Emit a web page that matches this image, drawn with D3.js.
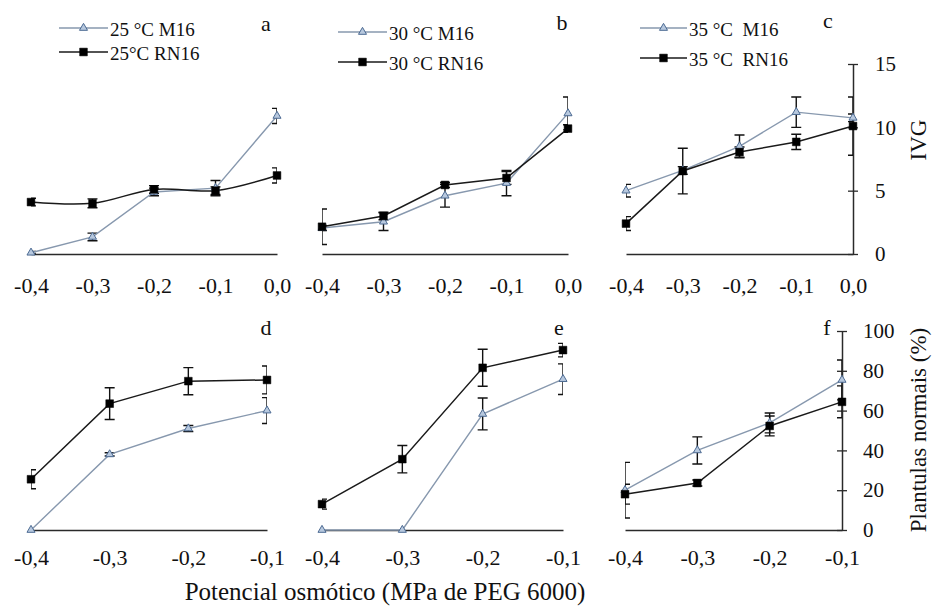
<!DOCTYPE html>
<html>
<head>
<meta charset="utf-8">
<script src="https://cdn.jsdelivr.net/npm/d3@7"></script>
<style>
  html, body { margin: 0; padding: 0; background: #fff; }
  svg { display: block; }
  svg text { font-family: "Liberation Serif", "DejaVu Serif", "Times New Roman", Times, serif; fill: #111; }
</style>
</head>
<body>
<svg id="chart" width="933" height="608"></svg>
<script>
// ---------------- DATA ----------------
const xTop = [-0.4, -0.3, -0.2, -0.1, 0.0];
const xBottom = [-0.4, -0.3, -0.2, -0.1];
const xTickLabelsTop = ["-0,4", "-0,3", "-0,2", "-0,1", "0,0"];
const xTickLabelsBottom = ["-0,4", "-0,3", "-0,2", "-0,1"];
const ivgTicks = [0, 5, 10, 15];
const plantTicks = [0, 20, 40, 60, 80, 100];
const panelLetters = ["a", "b", "c", "d", "e", "f"];
const legendM16 = ["25 °C M16", "30 °C M16", "35 °C  M16"];
const legendRN16 = ["25°C RN16", "30 °C RN16", "35 °C  RN16"];
const yLabelTop = "IVG";
const yLabelBottom = "Plantulas normais (%)";
const xLabel = "Potencial osmótico (MPa de PEG 6000)";

// IVG (top row)
const ivg25M16 = [0.1, 1.35, 4.9, 5.2, 10.9];
const ivg25M16Err = [0.1, 0.3, 0.3, 0.6, 0.6];
const ivg25RN16 = [4.1, 4.0, 5.1, 5.0, 6.2];
const ivg25RN16Err = [0.3, 0.35, 0.3, 0.3, 0.6];

const ivg30M16 = [2.05, 2.55, 4.6, 5.6, 11.1];
const ivg30M16Err = [0.2, 0.7, 0.9, 1.0, 1.3];
const ivg30RN16 = [2.15, 3.0, 5.45, 6.0, 9.9];
const ivg30RN16Err = [1.4, 0.3, 0.2, 0.5, 0.3];

const ivg35M16 = [5.0, 6.6, 8.5, 11.2, 10.75];
const ivg35M16Err = [0.5, 0.3, 0.9, 1.2, 0.3];
const ivg35RN16 = [2.4, 6.55, 8.05, 8.85, 10.1];
const ivg35RN16Err = [0.55, 1.8, 0.4, 0.6, 2.3];

// Plantulas normais % (bottom row)
const pn25M16 = [0, 38, 51, 60];
const pn25M16Err = [0, 0.8, 1.5, 6.5];
const pn25RN16 = [25.5, 63.5, 74.8, 75.4];
const pn25RN16Err = [4.8, 8, 6.8, 7];

const pn30M16 = [0, 0, 58.3, 75.8];
const pn30M16Err = [0, 0, 8, 7.7];
const pn30RN16 = [13, 35.6, 81.5, 90.4];
const pn30RN16Err = [2.5, 6.9, 9.3, 3.4];

const pn35M16 = [20, 40, 53.8, 75.4];
const pn35M16Err = [14, 6.8, 5, 10];
const pn35RN16 = [18, 23.6, 52.3, 64.4];
const pn35RN16Err = [5, 1.5, 5, 8];

// ---------------- LAYOUT ----------------
const FONT = "'Liberation Serif', 'DejaVu Serif', 'Times New Roman', Times, serif";
const svg = d3.select("#chart");
const colM16 = "#8798ae", colM16Mark = "#4d6b93", colM16Fill = "#b7c8de";
const colRN16 = "#1a1a1a";

const panels = [
  {x: xTop, labels: xTickLabelsTop, m: ivg25M16, me: ivg25M16Err, r: ivg25RN16, re: ivg25RN16Err,
   xr: [31, 277], yr: [254, 64], ydom: [0, 15], pad: 23, smoothR: true,
   leg: {x1: 59, x2: 108, y1: 28, y2: 52}, letter: {x: 266, y: 31}},
  {x: xTop, labels: xTickLabelsTop, m: ivg30M16, me: ivg30M16Err, r: ivg30RN16, re: ivg30RN16Err,
   xr: [322, 568], yr: [254, 64], ydom: [0, 15], pad: 23,
   leg: {x1: 338, x2: 387, y1: 32, y2: 62}, letter: {x: 562, y: 30}},
  {x: xTop, labels: xTickLabelsTop, m: ivg35M16, me: ivg35M16Err, r: ivg35RN16, re: ivg35RN16Err,
   xr: [626, 853], yr: [254, 64], ydom: [0, 15], pad: 23, axis: {ticks: ivgTicks, labelX: 875},
   leg: {x1: 640, x2: 687, y1: 28, y2: 58}, letter: {x: 828, y: 28}},
  {x: xBottom, labels: xTickLabelsBottom, m: pn25M16, me: pn25M16Err, r: pn25RN16, re: pn25RN16Err,
   xr: [31, 267], yr: [530, 331], ydom: [0, 100], pad: 19, letter: {x: 266, y: 335}},
  {x: xBottom, labels: xTickLabelsBottom, m: pn30M16, me: pn30M16Err, r: pn30RN16, re: pn30RN16Err,
   xr: [322, 563], yr: [530, 331], ydom: [0, 100], pad: 19, letter: {x: 559, y: 335}},
  {x: xBottom, labels: xTickLabelsBottom, m: pn35M16, me: pn35M16Err, r: pn35RN16, re: pn35RN16Err,
   xr: [625, 842], yr: [530, 331], ydom: [0, 100], pad: 19, axis: {ticks: plantTicks, labelX: 863},
   letter: {x: 827, y: 335}}
];

const defs = svg.append("defs");
const triPath = d3.symbol().type(d3.symbolTriangle).size(28)();
const sqPath = d3.symbol().type(d3.symbolSquare).size(60)();

panels.forEach((p, i) => {
  const x = d3.scaleLinear().domain([p.x[0], p.x[p.x.length - 1]]).range(p.xr);
  const y = d3.scaleLinear().domain(p.ydom).range(p.yr);
  const g = svg.append("g");

  const cid = "clip" + i;
  defs.append("clipPath").attr("id", cid).append("rect")
    .attr("x", p.xr[0]).attr("y", 0).attr("width", p.xr[1] - p.xr[0]).attr("height", 608);

  const xa = g.append("g").attr("transform", `translate(0,${p.yr[0]})`)
    .call(d3.axisBottom(x).tickValues(p.x).tickFormat((d, k) => p.labels[k])
      .tickSize(0).tickPadding(p.pad));
  xa.attr("font-family", FONT);
  xa.select(".domain").attr("stroke", "#2a2a2a").attr("stroke-width", 1.5);
  xa.selectAll("text").style("font-family", FONT).style("font-size", "22px").attr("fill", "#111");

  if (p.axis) {
    const ya = g.append("g").attr("transform", `translate(${p.xr[1]},0)`)
      .call(d3.axisRight(y).tickValues(p.axis.ticks).tickSize(5).tickSizeOuter(0)
        .tickPadding(p.axis.labelX - p.xr[1] - 5));
    ya.attr("font-family", FONT);
    ya.select(".domain").attr("stroke", "#2a2a2a").attr("stroke-width", 1.5);
    ya.selectAll(".tick line").attr("x1", -5).attr("x2", 5).attr("stroke", "#2a2a2a").attr("stroke-width", 1.3);
    ya.selectAll("text").style("font-family", FONT).style("font-size", "21px").attr("fill", "#111");
  }

  const series = [
    {v: p.m, e: p.me, col: colM16, w: 1.4, mark: "tri", smooth: false},
    {v: p.r, e: p.re, col: colRN16, w: 1.5, mark: "sq", smooth: !!p.smoothR}
  ];

  const eg = g.append("g").attr("clip-path", `url(#${cid})`);
  series.forEach(s => {
    p.x.forEach((xv, k) => {
      if (!s.e[k]) return;
      const cx = x(xv), yt = y(s.v[k] + s.e[k]), yb = y(Math.max(0, s.v[k] - s.e[k]));
      const pathD = `M${cx},${yt}V${yb}M${cx - 5},${yt}H${cx + 5}M${cx - 5},${yb}H${cx + 5}`;
      eg.append("path").attr("d", pathD).attr("stroke", "#111").attr("stroke-width", 1.4).attr("fill", "none");
    });
  });

  series.forEach(s => {
    const line = d3.line().x((d, k) => x(p.x[k])).y(d => y(d))
      .curve(s.smooth ? d3.curveCatmullRom.alpha(0.5) : d3.curveLinear);
    g.append("path").datum(s.v).attr("d", line).attr("fill", "none")
      .attr("stroke", s.col).attr("stroke-width", s.w);
  });

  series.forEach(s => {
    g.selectAll(null).data(s.v).join("path")
      .attr("transform", (d, k) => `translate(${x(p.x[k])},${y(d)})`)
      .attr("d", s.mark === "tri" ? triPath : sqPath)
      .attr("fill", s.mark === "tri" ? colM16Fill : "#000")
      .attr("stroke", s.mark === "tri" ? colM16Mark : "#000")
      .attr("stroke-width", s.mark === "tri" ? 1 : 0.5);
  });

  g.append("text").attr("x", p.letter.x).attr("y", p.letter.y).attr("text-anchor", "middle")
    .style("font-family", FONT).style("font-size", "22px").text(panelLetters[i]);

  if (p.leg) {
    const L = p.leg, mx = (L.x1 + L.x2) / 2;
    [[L.y1, legendM16[i], "tri"], [L.y2, legendRN16[i], "sq"]].forEach(([ly, txt, mk]) => {
      g.append("line").attr("x1", L.x1).attr("x2", L.x2).attr("y1", ly).attr("y2", ly)
        .attr("stroke", mk === "tri" ? colM16 : colRN16).attr("stroke-width", 1.4);
      g.append("path").attr("transform", `translate(${mx},${ly})`)
        .attr("d", mk === "tri" ? triPath : sqPath)
        .attr("fill", mk === "tri" ? colM16Fill : "#000")
        .attr("stroke", mk === "tri" ? colM16Mark : "#000").attr("stroke-width", mk === "tri" ? 1 : 0.5);
      g.append("text").attr("x", L.x2 + 2).attr("y", ly + 1.5).attr("dy", "0.35em")
        .style("font-family", FONT).style("font-size", "19px").style("white-space", "pre")
        .attr("xml:space", "preserve").text(txt);
    });
  }
});

svg.append("text").attr("transform", "translate(918,140) rotate(-90)").attr("text-anchor", "middle")
  .attr("dy", "0.35em").style("font-family", FONT).style("font-size", "23px").text(yLabelTop);
svg.append("text").attr("transform", "translate(918,430) rotate(-90)").attr("text-anchor", "middle")
  .attr("dy", "0.35em").style("font-family", FONT).style("font-size", "23px").text(yLabelBottom);
svg.append("text").attr("x", 385).attr("y", 600).attr("text-anchor", "middle")
  .style("font-family", FONT).style("font-size", "25px").text(xLabel);
</script>
</body>
</html>
